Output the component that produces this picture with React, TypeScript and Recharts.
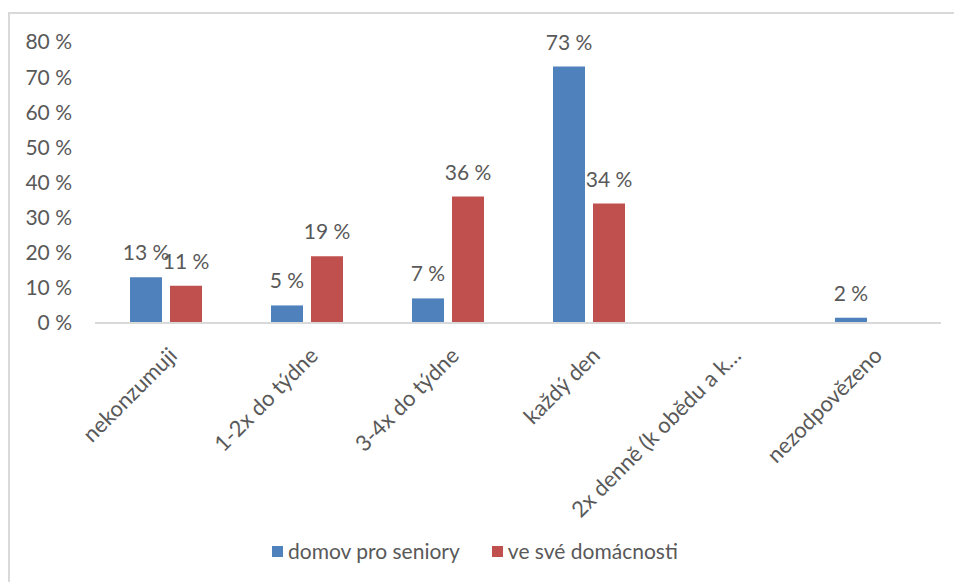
import React from 'react';
import { BarChart, Bar, XAxis, YAxis, LabelList } from 'recharts';

const categories = [
  'nekonzumuji',
  '1-2x do týdne',
  '3-4x do týdne',
  'každý den',
  '2x denně (k obědu a k…',
  'nezodpovězeno',
];
const domovProSeniory = [13, 5, 7, 73, 0, 1.5];
const veSveDomacnosti = [10.6, 19, 36, 34, 0, 0];
const yTicks = [0, 10, 20, 30, 40, 50, 60, 70, 80];
const seriesNames = ['domov pro seniory', 've své domácnosti'];
const colors = ['#4f81bd', '#c0504d'];

const data = categories.map((c, i) => ({
  name: c,
  a: domovProSeniory[i],
  b: veSveDomacnosti[i],
}));

const FONT = 'Lato, "Open Sans", sans-serif';
const TEXT = '#595959';
const FS = 21;

const XTick = (props: any) => {
  const { x, y, payload } = props;
  const ax = x + 13;
  const ay = y + 32;
  return (
    <text
      x={ax}
      y={ay}
      transform={`rotate(-45, ${ax}, ${ay})`}
      textAnchor="end"
      fill={TEXT}
      fontSize={22}
      fontFamily={FONT}
    >
      {payload.value}
    </text>
  );
};

const BarLabel = (props: any) => {
  const { x, y, width, value } = props;
  if (!value || value <= 0) return null;
  return (
    <text
      x={Number(x) + Number(width) / 2}
      y={Number(y) - 17}
      textAnchor="middle"
      fill={TEXT}
      fontSize={FS}
      fontFamily={FONT}
    >
      {`${Math.round(value)} %`}
    </text>
  );
};

const LegendBox = () => (
  <div
    style={{
      position: 'absolute',
      left: 272,
      top: 539,
      display: 'flex',
      alignItems: 'center',
      fontFamily: FONT,
      fontSize: FS,
      color: TEXT,
      whiteSpace: 'nowrap',
      lineHeight: '24px',
    }}
  >
    {seriesNames.map((n, i) => (
      <div key={n} style={{ display: 'flex', alignItems: 'center', marginLeft: i ? 32 : 0 }}>
        <span style={{ display: 'inline-block', width: 11, height: 11, background: colors[i], marginRight: 5 }} />
        <span>{n}</span>
      </div>
    ))}
  </div>
);

export default function App() {
  return (
    <div style={{ position: 'absolute', left: 0, top: 0, width: 954, height: 582, overflow: 'hidden', background: '#fff' }}>
      <div
        style={{
          position: 'absolute',
          left: 8,
          top: 12,
          width: 2000,
          height: 2000,
          border: '2px solid #d9d9d9',
        }}
      />
      <div style={{ position: 'absolute', left: 0, top: 0 }}>
        <BarChart
          width={954}
          height={582}
          data={data}
          margin={{ top: 42, right: 13, left: 35, bottom: 0 }}
          barSize={32}
          barGap={8}
        >
          <YAxis
            width={60}
            domain={[0, 80]}
            ticks={yTicks}
            interval={0}
            axisLine={false}
            tickLine={false}
            tickSize={0}
            tickMargin={23}
            tickFormatter={(v: number) => `${v} %`}
            tick={{ fill: TEXT, fontSize: FS, fontFamily: FONT }}
          />
          <XAxis
            dataKey="name"
            height={259}
            interval={0}
            tickLine={false}
            tickSize={0}
            axisLine={{ stroke: '#d9d9d9', strokeWidth: 2 }}
            tick={<XTick />}
          />
          <Bar dataKey="a" name={seriesNames[0]} fill={colors[0]} isAnimationActive={false}>
            <LabelList dataKey="a" content={<BarLabel />} />
          </Bar>
          <Bar dataKey="b" name={seriesNames[1]} fill={colors[1]} isAnimationActive={false}>
            <LabelList dataKey="b" content={<BarLabel />} />
          </Bar>
        </BarChart>
      </div>
      <LegendBox />
    </div>
  );
}
